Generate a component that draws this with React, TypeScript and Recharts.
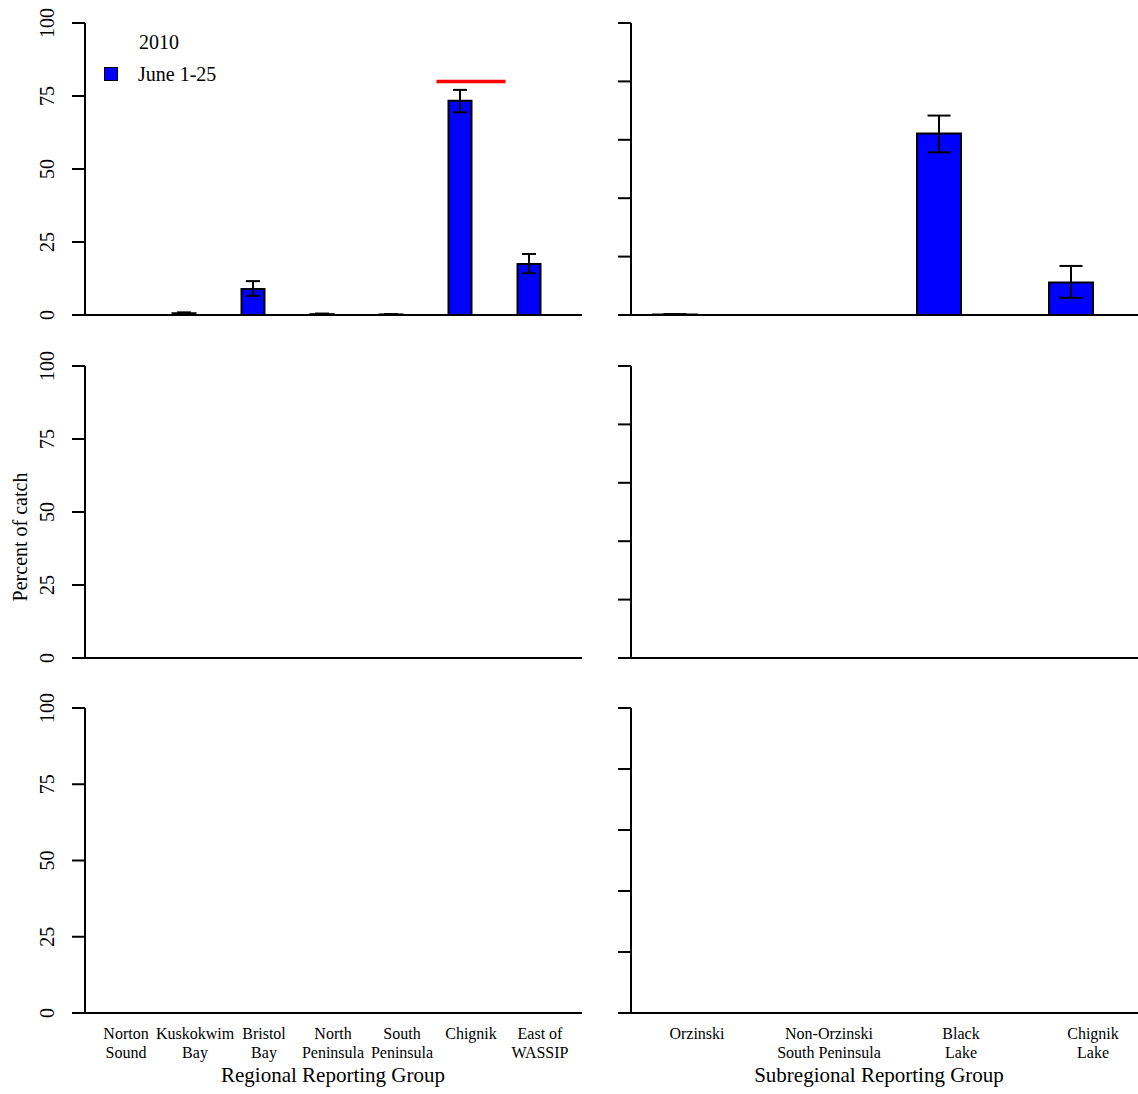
import React from "react";
import { BarChart, Bar, XAxis, YAxis, ErrorBar, ReferenceLine, ReferenceArea, Legend } from "recharts";

const FONT = "'Liberation Serif', 'Times New Roman', serif";

// regional reporting groups (left column)
const regionalGroups = ["Norton Sound", "Kuskokwim Bay", "Bristol Bay", "North Peninsula", "South Peninsula", "Chignik", "East of WASSIP"];
const regionalLabelLines = [["Norton", "Sound"], ["Kuskokwim", "Bay"], ["Bristol", "Bay"], ["North", "Peninsula"], ["South", "Peninsula"], ["Chignik"], ["East of", "WASSIP"]];
const regionalJune = [0, 0.6, 8.9, 0.3, 0.2, 73.4, 17.5];
const regionalJuneLower = [0, 0.3, 6.6, 0.1, 0.1, 69.4, 14.3];
const regionalJuneUpper = [0, 0.9, 11.6, 0.5, 0.3, 77.1, 20.9];
const regionalNone = [0, 0, 0, 0, 0, 0, 0];

// subregional reporting groups (right column)
const subregionalGroups = ["Orzinski", "Non-Orzinski South Peninsula", "Black Lake", "Chignik Lake"];
const subregionalLabelLines = [["Orzinski"], ["Non-Orzinski", "South Peninsula"], ["Black", "Lake"], ["Chignik", "Lake"]];
const subregionalJune = [0.2, 0, 62.2, 11.1];
const subregionalJuneLower = [0.1, 0, 55.7, 5.9];
const subregionalJuneUpper = [0.3, 0, 68.3, 16.8];
const subregionalNone = [0, 0, 0, 0];

const regionalTicks = [0, 25, 50, 75, 100];
const subregionalTicks = [0, 20, 40, 60, 80, 100];

const legendYear = "2010";
const juneLabel = "June 1-25";
const chignikGoal = { group: "Chignik", value: 80 };

const makeRows = (groups: string[], vals: number[], lo: number[], hi: number[], other: number[]) =>
  groups.map((g, i) => ({ group: g, june: vals[i], juneErr: [vals[i] - lo[i], hi[i] - vals[i]], later: other[i] }));

const regionalTop = makeRows(regionalGroups, regionalJune, regionalJuneLower, regionalJuneUpper, regionalNone);
const regionalEmpty = makeRows(regionalGroups, regionalNone, regionalNone, regionalNone, regionalNone);
const subregionalTop = makeRows(subregionalGroups, subregionalJune, subregionalJuneLower, subregionalJuneUpper, subregionalNone);
const subregionalEmpty = makeRows(subregionalGroups, subregionalNone, subregionalNone, subregionalNone, subregionalNone);

const RotatedTick = (props: any) => {
  const { x, y, payload } = props;
  const cx = x - 23;
  return (
    <text x={cx} y={y} transform={`rotate(-90, ${cx}, ${y})`} textAnchor="middle" dominantBaseline="central"
      fontFamily={FONT} fontSize={20} fill="#000">
      {payload.value}
    </text>
  );
};

const NoTick = () => <g />;

const LegendBox = (props: any) => {
  const item = (props.payload || []).find((p: any) => p.dataKey === "june");
  return (
    <div style={{ fontFamily: FONT, fontSize: 20, color: "#000", lineHeight: "32px" }}>
      <div style={{ paddingLeft: 35 }}>{legendYear}</div>
      <div style={{ display: "flex", alignItems: "center" }}>
        <span style={{ display: "inline-block", width: 12, height: 12, background: item ? item.color : "#0000ff", border: "1.5px solid #000", marginRight: 20 }} />
        {item ? item.value : juneLabel}
      </div>
    </div>
  );
};

interface PanelProps {
  data: any[];
  ticks: number[];
  left: number;
  top: number;
  width: number;
  height: number;
  margin: { top: number; right: number; bottom: number; left: number };
  yWidth: number;
  barSize: number;
  cap: number;
  pad: { left: number; right: number };
  labeled: boolean;
  labelLines?: string[][];
  xHeight?: number;
  legend?: boolean;
  goal?: boolean;
}

const Panel = (p: PanelProps) => {
  const plotBottom = p.height - p.margin.bottom - (p.labelLines ? p.xHeight || 0 : 0);
  const CategoryTick = (t: any) => {
    const lines = p.labelLines ? p.labelLines[t.index] : [];
    return (
      <g>
        {lines.map((ln, k) => (
          <text key={k} x={t.x} y={plotBottom + 20 + k * 19} textAnchor="middle" dominantBaseline="central"
            fontFamily={FONT} fontSize={16} fill="#000">{ln}</text>
        ))}
      </g>
    );
  };
  return (
    <div style={{ position: "absolute", left: p.left, top: p.top }}>
      <BarChart width={p.width} height={p.height} data={p.data} margin={p.margin} barSize={p.barSize} barGap={0}>
        <XAxis dataKey="group" type="category" hide={!p.labelLines} height={p.xHeight} padding={p.pad}
          axisLine={false} tickLine={false} interval={0} tick={CategoryTick} />
        <YAxis type="number" domain={[0, 100]} ticks={p.ticks} interval={0} width={p.yWidth} tickSize={13}
          axisLine={{ stroke: "#000", strokeWidth: 2 }} tickLine={{ stroke: "#000", strokeWidth: 2 }}
          tick={p.labeled ? RotatedTick : NoTick} />
        <Bar dataKey="june" name={juneLabel} fill="#0000ff" stroke="#000" strokeWidth={2} isAnimationActive={false}>
          <ErrorBar dataKey="juneErr" width={p.cap} stroke="#000" strokeWidth={2} direction="y" />
        </Bar>
        <Bar dataKey="later" name="later" legendType="none" fill="#0000ff" stroke="#000" strokeWidth={2} isAnimationActive={false} />
        <ReferenceLine y={0} stroke="#000" strokeWidth={2} />
        {p.goal && (
          <ReferenceArea x1={chignikGoal.group} x2={chignikGoal.group} y1={chignikGoal.value - 0.6} y2={chignikGoal.value + 0.6}
            fill="#ff0000" fillOpacity={1} stroke="none" />
        )}
        {p.legend && (
          <Legend layout="vertical" align="center" verticalAlign="middle" content={LegendBox}
            wrapperStyle={{ position: "absolute", left: 104, top: 26, width: 160, height: 64 }} />
        )}
      </BarChart>
    </div>
  );
};

const leftCommon = { left: 0, width: 600, yWidth: 85, barSize: 23, cap: 7, pad: { left: 6.5, right: 7.5 }, labeled: true, ticks: regionalTicks };
const rightCommon = { left: 601, width: 558, yWidth: 30, barSize: 44, cap: 11.5, pad: { left: 0, right: 0 }, labeled: false, ticks: subregionalTicks };

const App = () => {
  return (
    <div style={{ position: "absolute", left: 0, top: 0, width: 1138, height: 1094, overflow: "hidden", background: "#fff", fontFamily: FONT }}>
      <Panel {...leftCommon} data={regionalTop} top={0} height={340} margin={{ top: 23, right: 18, bottom: 25, left: 0 }} legend goal />
      <Panel {...rightCommon} data={subregionalTop} top={0} height={340} margin={{ top: 23, right: 0, bottom: 25, left: 0 }} />
      <Panel {...leftCommon} data={regionalEmpty} top={340} height={340} margin={{ top: 26, right: 18, bottom: 22, left: 0 }} />
      <Panel {...rightCommon} data={subregionalEmpty} top={340} height={340} margin={{ top: 26, right: 0, bottom: 22, left: 0 }} />
      <Panel {...leftCommon} data={regionalEmpty} top={680} height={414} margin={{ top: 28, right: 18, bottom: 0, left: 0 }}
        labelLines={regionalLabelLines} xHeight={81} />
      <Panel {...rightCommon} data={subregionalEmpty} top={680} height={414} margin={{ top: 28, right: 0, bottom: 0, left: 0 }}
        labelLines={subregionalLabelLines} xHeight={81} />
      <svg width={1138} height={1094} style={{ position: "absolute", left: 0, top: 0, pointerEvents: "none" }}>
        <text x={20} y={537} transform="rotate(-90, 20, 537)" textAnchor="middle" dominantBaseline="central" fontFamily={FONT} fontSize={20} fill="#000">
          Percent of catch
        </text>
        <text x={333} y={1075} textAnchor="middle" dominantBaseline="central" fontFamily={FONT} fontSize={21} fill="#000">
          Regional Reporting Group
        </text>
        <text x={879} y={1075} textAnchor="middle" dominantBaseline="central" fontFamily={FONT} fontSize={21} fill="#000">
          Subregional Reporting Group
        </text>
      </svg>
    </div>
  );
};

export default App;
